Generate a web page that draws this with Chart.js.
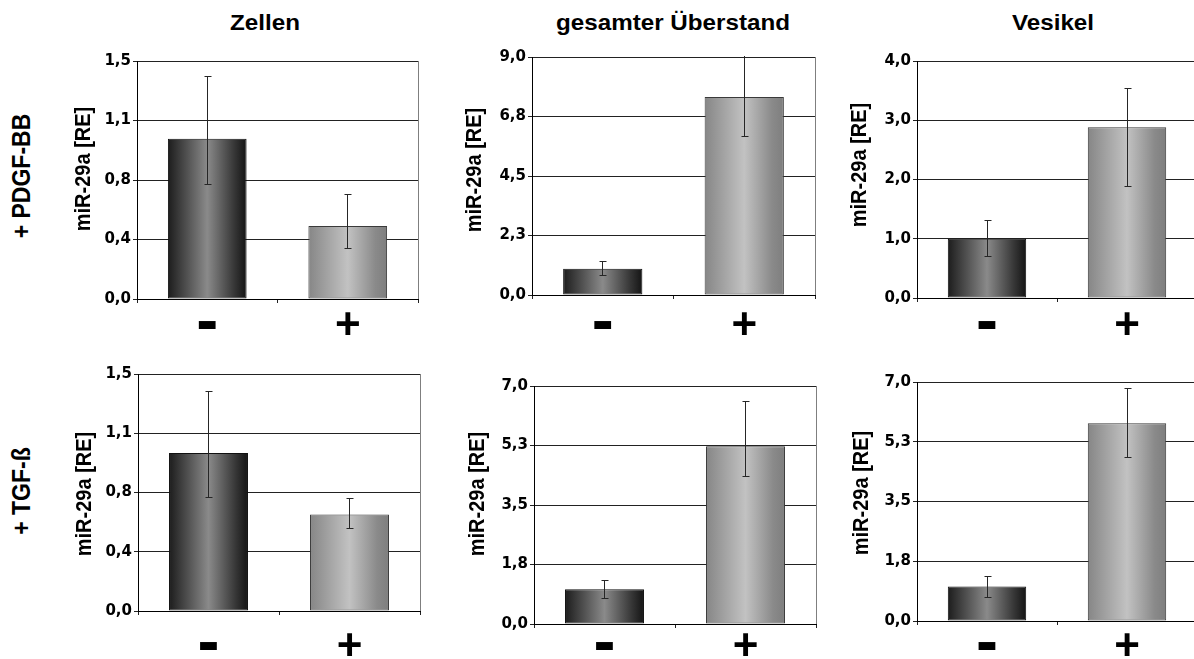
<!DOCTYPE html>
<html lang="de">
<head>
<meta charset="utf-8">
<title>miR-29a – Zellen, Überstand, Vesikel</title>
<script src="https://cdn.jsdelivr.net/npm/chart.js@4.4.1/dist/chart.umd.min.js"></script>
<style>
  html, body { margin: 0; padding: 0; background: #fff; }
  #stage { position: relative; width: 1194px; height: 659px; overflow: hidden; background: #fff; }
  #stage canvas { position: absolute; z-index: 1; }
  .lbl {
    position: absolute; z-index: 2; white-space: nowrap; line-height: 1;
    font-family: "Liberation Sans", Arial, sans-serif; font-weight: bold; color: #000;
    transform-origin: center center;
  }
</style>
</head>
<body>
<div id="stage"></div>
<script>
// ---- categories and texts ----
const groups = ['-', '+'];
const columnTitles = ['Zellen', 'gesamter Überstand', 'Vesikel'];
const rowTitles = ['+ PDGF-BB', '+ TGF-ß'];
const yAxisTitle = 'miR-29a [RE]';

// ---- tick labels of the value axes ----
const ticksZellen = ['0,0', '0,4', '0,8', '1,1', '1,5'];
const ticksUeberstandPdgf = ['0,0', '2,3', '4,5', '6,8', '9,0'];
const ticksVesikelPdgf = ['0,0', '1,0', '2,0', '3,0', '4,0'];
const ticksSeven = ['0,0', '1,8', '3,5', '5,3', '7,0'];

// ---- axis maxima ----
const yMaxPdgf = [1.5, 9.0, 4.0];
const yMaxTgf = [1.5, 7.0, 7.0];

// ---- + PDGF-BB: mean, upper and lower end of the error bar ----
const pdgfZellen = [1.01, 0.46];
const pdgfZellenHigh = [1.40, 0.66];
const pdgfZellenLow = [0.72, 0.32];

const pdgfUeberstand = [0.99, 7.49];
const pdgfUeberstandHigh = [1.25, 9.06];
const pdgfUeberstandLow = [0.74, 5.98];

const pdgfVesikel = [1.00, 2.88];
const pdgfVesikelHigh = [1.31, 3.54];
const pdgfVesikelLow = [0.70, 1.88];

// ---- + TGF-ß ----
const tgfZellen = [1.00, 0.61];
const tgfZellenHigh = [1.39, 0.71];
const tgfZellenLow = [0.72, 0.52];

const tgfUeberstand = [1.02, 5.23];
const tgfUeberstandHigh = [1.28, 6.53];
const tgfUeberstandLow = [0.76, 4.34];

const tgfVesikel = [1.01, 5.79];
const tgfVesikelHigh = [1.31, 6.81];
const tgfVesikelLow = [0.70, 4.80];

// ---- panel layout: plot rectangle [left, top, right, bottom] and label offset ----
const panels = [
  { values: pdgfZellen, high: pdgfZellenHigh, low: pdgfZellenLow, max: yMaxPdgf[0], ticks: ticksZellen, plot: [137, 61, 418, 299], labelPad: 4 },
  { values: pdgfUeberstand, high: pdgfUeberstandHigh, low: pdgfUeberstandLow, max: yMaxPdgf[1], ticks: ticksUeberstandPdgf, plot: [532, 57, 815, 295], labelPad: 8 },
  { values: pdgfVesikel, high: pdgfVesikelHigh, low: pdgfVesikelLow, max: yMaxPdgf[2], ticks: ticksVesikelPdgf, plot: [917, 61, 1197, 298], labelPad: 5 },
  { values: tgfZellen, high: tgfZellenHigh, low: tgfZellenLow, max: yMaxTgf[0], ticks: ticksZellen, plot: [138, 374, 420, 611], labelPad: 13 },
  { values: tgfUeberstand, high: tgfUeberstandHigh, low: tgfUeberstandLow, max: yMaxTgf[1], ticks: ticksSeven, plot: [534, 386, 816, 624], labelPad: 0 },
  { values: tgfVesikel, high: tgfVesikelHigh, low: tgfVesikelLow, max: yMaxTgf[2], ticks: ticksSeven, plot: [917, 382, 1197, 621], labelPad: 3 }
];

const SANS = '"Liberation Sans", Arial, sans-serif';
const TICK_SANS = '"DejaVu Sans", "Liberation Sans", sans-serif';
const BAR_PCT = 0.56;
const stage = document.getElementById('stage');

// horizontal shading of each bar: dark for "-", light for "+"
const shades = {
  '-': [[0, '#1c1c1c'], [0.5, '#8a8a8a'], [0.85, '#353535'], [1, '#141414']],
  '+': [[0, '#868686'], [0.5, '#c2c2c2'], [0.85, '#8a8a8a'], [1, '#7e7e7e']]
};

function barFill(ctx) {
  const chart = ctx.chart;
  const i = ctx.dataIndex;
  const x = chart.scales && chart.scales.x;
  if (i === undefined || !x || !chart.chartArea) return '#888';
  const center = x.getPixelForValue(i);
  const half = (x.width / groups.length) * BAR_PCT / 2;
  const g = chart.ctx.createLinearGradient(center - half, 0, center + half, 0);
  shades[groups[i]].forEach(([pos, col]) => g.addColorStop(pos, col));
  return g;
}

// grey line closing the plot on the right
const frame = {
  id: 'frame',
  beforeDatasetsDraw(chart) {
    const { ctx, chartArea: a } = chart;
    const xr = Math.round(a.right - 0.5) + 0.5;
    ctx.save();
    ctx.strokeStyle = '#7f7f7f';
    ctx.lineWidth = 1;
    ctx.beginPath();
    ctx.moveTo(xr, a.top);
    ctx.lineTo(xr, a.bottom);
    ctx.stroke();
    ctx.restore();
  }
};

// whiskers from the lower to the upper error value of each bar
const errorBars = {
  id: 'errorBars',
  afterDatasetsDraw(chart) {
    const { ctx, chartArea: a } = chart;
    const y = chart.scales.y;
    const ds = chart.data.datasets[0];
    const meta = chart.getDatasetMeta(0);
    ctx.save();
    ctx.beginPath();
    ctx.rect(a.left, a.top - 1, a.right - a.left, a.bottom - a.top + 2);
    ctx.clip();
    ctx.strokeStyle = '#262626';
    ctx.lineWidth = 1;
    meta.data.forEach((bar, i) => {
      const x = Math.round(bar.x - 0.5) + 0.5;
      const yHi = Math.round(y.getPixelForValue(ds.errorHigh[i]) - 0.5) + 0.5;
      const yLo = Math.round(y.getPixelForValue(ds.errorLow[i]) - 0.5) + 0.5;
      ctx.beginPath();
      ctx.moveTo(x, yHi); ctx.lineTo(x, yLo);
      ctx.moveTo(x - 3, yHi); ctx.lineTo(x + 4, yHi);
      ctx.moveTo(x - 3, yLo); ctx.lineTo(x + 4, yLo);
      ctx.stroke();
    });
    ctx.restore();
  }
};

function makePanel(p) {
  const [L, T, R, B] = p.plot;
  const AXIS_W = 70, PAD_T = 12, PAD_R = 6, AXIS_H = 60;
  const w = (R - L) + AXIS_W + PAD_R;
  const h = (B - T) + PAD_T + AXIS_H;
  const canvas = document.createElement('canvas');
  canvas.width = w; canvas.height = h;
  canvas.style.width = w + 'px'; canvas.style.height = h + 'px';
  canvas.style.left = (L - AXIS_W) + 'px';
  canvas.style.top = (T - PAD_T) + 'px';
  stage.appendChild(canvas);

  new Chart(canvas, {
    type: 'bar',
    data: {
      labels: groups,
      datasets: [{
        data: p.values,
        errorHigh: p.high,
        errorLow: p.low,
        backgroundColor: barFill,
        borderColor: (c) => c.dataIndex === 0 ? '#111111' : '#3a3a3a',
        borderWidth: 1,
        borderSkipped: false,
        categoryPercentage: 1,
        barPercentage: BAR_PCT
      }]
    },
    options: {
      responsive: false,
      animation: false,
      devicePixelRatio: 1,
      events: [],
      layout: { autoPadding: false, padding: { top: PAD_T, right: PAD_R, left: 0, bottom: 0 } },
      plugins: { legend: { display: false }, tooltip: { enabled: false } },
      scales: {
        x: {
          offset: true,
          grid: { display: true, offset: true, drawOnChartArea: false, drawTicks: true, tickLength: 4, color: '#222' },
          border: { display: true, color: '#000', width: 1 },
          ticks: {
            color: '#000',
            autoSkip: false,
            maxRotation: 0,
            minRotation: 0,
            padding: p.labelPad,
            font: (c) => groups[c.index] === '-'
              ? { family: SANS, weight: 'bold', size: 66, lineHeight: '34px' }
              : { family: SANS, weight: 'bold', size: 44, lineHeight: '40px' }
          },
          afterFit: (s) => { s.height = AXIS_H; }
        },
        y: {
          min: 0,
          max: p.max,
          grid: { color: '#222', lineWidth: 1, drawTicks: true, tickLength: 4 },
          border: { display: true, color: '#000', width: 1 },
          ticks: {
            stepSize: p.max / 4,
            color: '#000',
            padding: 2,
            font: { family: TICK_SANS, weight: 'bold', size: 15 },
            callback: (v, i) => p.ticks[i]
          },
          afterFit: (s) => { s.width = AXIS_W; }
        }
      }
    },
    plugins: [frame, errorBars]
  });
}

panels.forEach(makePanel);

// texts around the grid of panels
function addText(text, cx, cy, size, transform) {
  const d = document.createElement('div');
  d.className = 'lbl';
  d.textContent = text;
  d.style.fontSize = size + 'px';
  d.style.left = cx + 'px';
  d.style.top = cy + 'px';
  d.style.transform = 'translate(-50%, -50%) ' + transform;
  stage.appendChild(d);
}

const titleX = [265, 673, 1053];
columnTitles.forEach((t, i) => addText(t, titleX[i], 23, 22, 'scaleX(1.1)'));

const rowY = [176, 491];
rowTitles.forEach((t, i) => addText(t, 22, rowY[i], 23, 'rotate(-90deg) scaleY(1.1)'));

const yTitlePos = [[82, 169], [473, 170], [858, 165], [83, 494], [476, 494], [860, 493]];
yTitlePos.forEach(([x, y]) => addText(yAxisTitle, x, y, 20, 'rotate(-90deg) scaleY(1.1)'));
</script>
</body>
</html>
